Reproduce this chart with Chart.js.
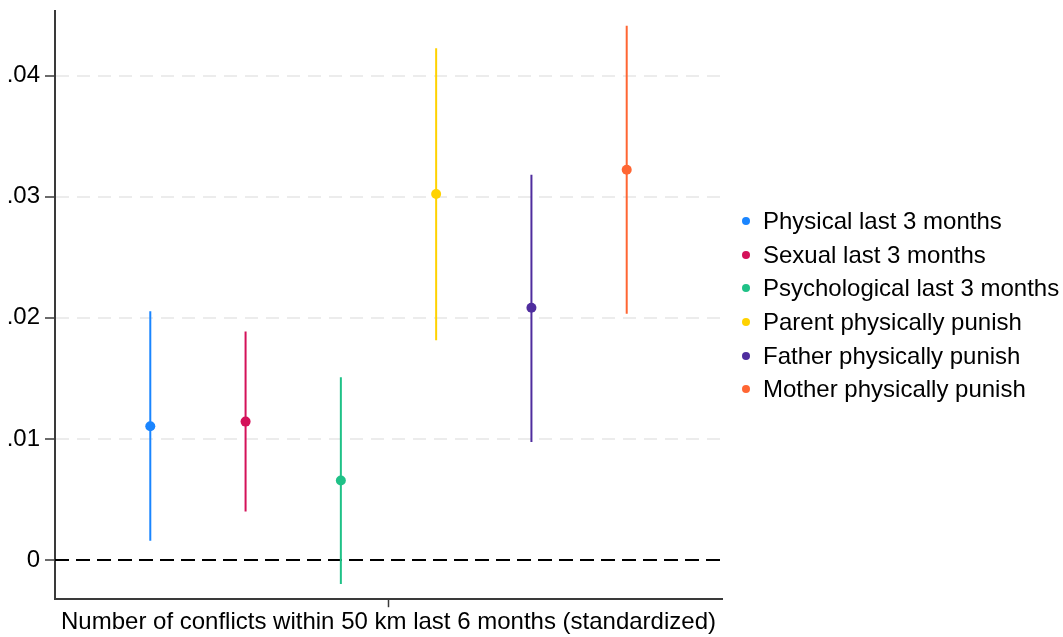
<!DOCTYPE html>
<html lang="en">
<head>
    <meta charset="UTF-8">
    <title>Conflict coefficients</title>
    <script src="https://cdn.jsdelivr.net/npm/chart.js"></script>
    <style>
        body { margin: 0; background: #fff; }
        #wrap { width: 1063px; height: 637px; position: relative; }
        #legend {
            position: absolute;
            left: 742px;
            top: 204px;
            font-family: 'Liberation Sans', Arial, sans-serif;
            font-size: 24px;
            color: #000;
        }
        .row { display: flex; align-items: center; height: 33.7px; line-height: 33.7px; white-space: nowrap; }
        .dot { width: 8px; height: 8px; border-radius: 50%; margin-right: 13px; }
    </style>
</head>
<body>
    <div id="wrap">
        <canvas id="myChart"></canvas>
        <div id="legend"></div>
    </div>

    <script>
        // outcomes and estimates with 95% CI
        const outcomes = ['Physical last 3 months', 'Sexual last 3 months', 'Psychological last 3 months',
            'Parent physically punish', 'Father physically punish', 'Mother physically punish'];
        const xPos = [1, 2, 3, 4, 5, 6];
        const estimates = [0.01105, 0.01143, 0.00657, 0.03023, 0.02083, 0.03223];
        const ciLow = [0.00159, 0.00401, -0.00198, 0.01816, 0.00975, 0.02034];
        const ciHigh = [0.02055, 0.01888, 0.01509, 0.04227, 0.03182, 0.04413];
        const colors = ['#1a85ff', '#d41159', '#1fc187', '#ffd200', '#4f2d9e', '#ff6633'];
        const yTicks = [0, 0.01, 0.02, 0.03, 0.04];
        const xTitle = 'Number of conflicts within 50 km last 6 months (standardized)';

        const FONT = "'Liberation Sans', Arial, sans-serif";

        const datasets = [];
        outcomes.forEach((name, i) => {
            datasets.push({
                type: 'scatter',
                label: name,
                data: [{x: xPos[i], y: estimates[i]}],
                backgroundColor: colors[i],
                borderColor: colors[i],
                pointRadius: 5,
                pointBorderWidth: 0,
                order: 0
            });
            datasets.push({
                type: 'line',
                label: name + ' CI',
                data: [{x: xPos[i], y: ciLow[i]}, {x: xPos[i], y: ciHigh[i]}],
                borderColor: colors[i],
                borderWidth: 2,
                pointRadius: 0,
                order: 1
            });
        });
        // zero reference line
        datasets.push({
            type: 'line',
            label: 'zero',
            data: [{x: 0, y: 0}, {x: 7, y: 0}],
            borderColor: '#000',
            borderWidth: 2,
            borderDash: [14, 7],
            pointRadius: 0,
            order: 2
        });

        const config = {
            type: 'scatter',
            data: { datasets: datasets },
            options: {
                responsive: true,
                maintainAspectRatio: false,
                animation: false,
                layout: { padding: { top: 0, right: 341, left: 0, bottom: 0 } },
                plugins: {
                    tooltip: { enabled: false },
                    legend: { display: false }
                },
                scales: {
                    x: {
                        type: 'linear',
                        min: 0,
                        max: 7,
                        afterBuildTicks: s => { s.ticks = [{value: 3.5}]; },
                        ticks: { display: false },
                        grid: { drawOnChartArea: false, tickLength: 8, tickColor: '#3a3a3a', tickWidth: 1.5 },
                        border: { color: '#3a3a3a', width: 2 },
                        title: {
                            display: true,
                            text: xTitle,
                            color: '#000',
                            font: { family: FONT, size: 24, lineHeight: 1.2 },
                            padding: { top: 1, bottom: 0 }
                        }
                    },
                    y: {
                        min: -0.00324,
                        max: 0.04535,
                        afterBuildTicks: s => { s.ticks = yTicks.map(v => ({value: v})); },
                        afterFit: s => { s.width = 55; },
                        ticks: {
                            color: '#000',
                            padding: 5,
                            // small lineHeight so the label box does not push the plot top down
                            font: { family: FONT, size: 24, lineHeight: 0.5 },
                            callback: v => v === 0 ? '0' : String(Math.round(v * 100) / 100).replace(/^0/, '')
                        },
                        grid: {
                            color: ctx => (ctx.tick && ctx.tick.value === 0) ? 'rgba(0,0,0,0)' : '#ececec',
                            lineWidth: 2,
                            tickLength: 10,
                            tickColor: '#3a3a3a',
                            tickWidth: 1.5
                        },
                        border: { color: '#3a3a3a', width: 2, dash: [13, 8] }
                    }
                }
            }
        };

        const myChart = new Chart(document.getElementById('myChart'), config);

        // legend, built from the same arrays
        const legend = document.getElementById('legend');
        outcomes.forEach((name, i) => {
            const row = document.createElement('div');
            row.className = 'row';
            const dot = document.createElement('span');
            dot.className = 'dot';
            dot.style.background = colors[i];
            const txt = document.createElement('span');
            txt.textContent = name;
            row.appendChild(dot);
            row.appendChild(txt);
            legend.appendChild(row);
        });
    </script>
</body>
</html>
